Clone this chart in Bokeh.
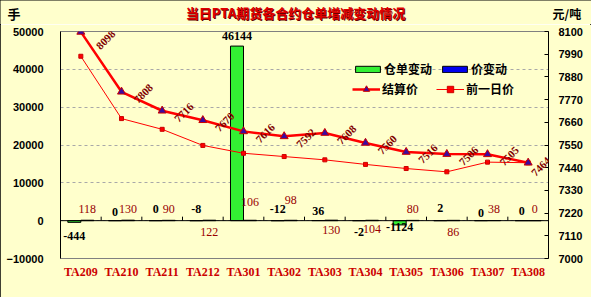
import numpy as np
from bokeh.plotting import figure
from bokeh.layouts import column
from bokeh.models import (Range1d, LinearAxis, FixedTicker, Span, Legend,
                          LegendItem, ColumnDataSource, FactorRange, LabelSet)
from bokeh.transform import dodge
from bokeh.core.properties import value
from bokeh.embed import file_html
from bokeh.resources import INLINE

# ---------------- data ----------------
contracts = ["TA209", "TA210", "TA211", "TA212", "TA301", "TA302",
             "TA303", "TA304", "TA305", "TA306", "TA307", "TA308"]
warrant_change = [-444, 0, 0, -8, 46144, -12, 36, -2, -1124, 2, 0, 0]
price_change = [118, 130, 90, 122, 106, 98, 130, 104, 80, 86, 38, 0]
settle_price = [8098, 7808, 7716, 7670, 7616, 7592, 7608, 7560, 7516, 7506, 7505, 7464]
prev_price = [7980, 7678, 7626, 7548, 7510, 7494, 7478, 7456, 7436, 7420, 7467, 7464]
left_ticks = [-10000, 0, 10000, 20000, 30000, 40000, 50000]
right_ticks = [7000, 7110, 7220, 7330, 7440, 7550, 7660, 7770, 7880, 7990, 8100]

title_text = "当日PTA期货各合约仓单增减变动情况"
left_unit = "手"
right_unit = "元/吨"
series_names = ["仓单变动", "价变动", "结算价", "前一日价"]

# label placement (style, screen px)
warrant_label_dy = [15, -9, -12, -12, -10, -12, -10, 11, 6, -13, -8, -10]   # + = down
price_label_dy = [-12, -12, -12, 11, -19, -21, 9, 8, -12, 11, -12, -12]    # + = down
settle_label_dx = [25, 22, 22, 22, 22, 22, 22, 22, 22, 22, 22, 13]
settle_label_dy = [-8, -2, -2, -2, -2, -2, -2, -2, -2, -2, -2, -4]         # + = up

# ---------------- style ----------------
BG = "#FFFFCC"
GREEN = "#33F033"
BLUE = "#0000EE"
RED = "#FF0000"
DARKRED = "#990000"
W = 591
TOP_H = 24
H = 297 - TOP_H
ML, MR, MT, MB = 60, 43, 31 - TOP_H, 39
FRAME_H = H - MT - MB

n = len(contracts)
src = ColumnDataSource(dict(
    cat=contracts,
    wh=warrant_change,
    pc=price_change,
    settle=settle_price,
    prev=prev_price,
    wh_txt=[str(v) for v in warrant_change],
    pc_txt=[str(v) for v in price_change],
    settle_txt=[str(v) for v in settle_price],
    wh_y=list(np.maximum(np.array(warrant_change), 0)),
    zero=[0] * n,
    wh_dy=warrant_label_dy,
    pc_dy=price_label_dy,
    s_dx=settle_label_dx,
    s_dy=settle_label_dy,
))

# ---------------- header strip (title and units) ----------------
t = figure(width=W, height=TOP_H, x_range=Range1d(0, W), y_range=Range1d(TOP_H, 0),
           output_backend="svg", toolbar_location=None,
           x_axis_type=None, y_axis_type=None, min_border=0,
           background_fill_color=BG, border_fill_color=BG)
try:
    t.frame_align = False
except Exception:
    pass
t.outline_line_color = None
t.grid.grid_line_color = None
t.text(x=[296], y=[13], text=[title_text], text_align="center", text_baseline="middle",
       text_font=value("Noto Sans CJK SC"), text_font_style="bold",
       text_font_size="13px", text_color="#660000")
t.text(x=[295], y=[12], text=[title_text], text_align="center", text_baseline="middle",
       text_font=value("Noto Sans CJK SC"), text_font_style="bold",
       text_font_size="13px", text_color="#E00000")
t.text(x=[7], y=[13], text=[left_unit], text_align="left", text_baseline="middle",
       text_font=value("Noto Sans CJK SC"), text_font_style="bold",
       text_font_size="13px", text_color="black")
t.text(x=[552], y=[13], text=[right_unit], text_align="left", text_baseline="middle",
       text_font=value("Noto Sans CJK SC"), text_font_style="bold",
       text_font_size="12px", text_color="black")

# ---------------- main chart ----------------
y0, y1 = left_ticks[0], left_ticks[-1]
p = figure(width=W, height=H,
           x_range=FactorRange(factors=contracts, range_padding=0),
           y_range=Range1d(y0, y1),
           output_backend="svg", toolbar_location=None,
           min_border_left=ML, min_border_right=MR,
           min_border_top=MT, min_border_bottom=MB,
           background_fill_color=BG, border_fill_color=BG)
try:
    p.frame_align = False
except Exception:
    pass
p.extra_y_ranges = {"price": Range1d(right_ticks[0], right_ticks[-1])}
p.outline_line_color = "#808080"

# grid
p.xgrid.grid_line_color = None
p.ygrid.ticker = FixedTicker(ticks=left_ticks)
p.ygrid.grid_line_color = "#A8A8A8"
p.ygrid.grid_line_dash = "3 3"

# left axis
p.yaxis.ticker = FixedTicker(ticks=left_ticks)
p.yaxis.axis_line_color = "black"
p.yaxis.major_tick_line_color = None
p.yaxis.minor_tick_line_color = None
p.yaxis.major_tick_out = 0
p.yaxis.major_tick_in = 0
p.yaxis.major_label_standoff = 17
p.yaxis.major_label_text_font = "Liberation Sans"
p.yaxis.major_label_text_font_style = "bold"
p.yaxis.major_label_text_font_size = "11px"
p.yaxis.major_label_text_color = "black"

# right axis
ra = LinearAxis(y_range_name="price", ticker=FixedTicker(ticks=right_ticks))
ra.axis_line_color = "black"
ra.major_tick_line_color = "black"
ra.major_tick_in = 4
ra.major_tick_out = 0
ra.minor_tick_line_color = None
ra.major_label_standoff = 10
ra.major_label_text_font = "Liberation Sans"
ra.major_label_text_font_style = "bold"
ra.major_label_text_font_size = "11px"
ra.major_label_text_color = "black"
p.add_layout(ra, "right")

# bottom axis
p.xaxis.axis_line_color = None
p.xaxis.major_tick_line_color = None
p.xaxis.minor_tick_line_color = None
p.xaxis.major_tick_out = 0
p.xaxis.major_label_standoff = 6
p.xaxis.major_label_text_font = "Liberation Serif"
p.xaxis.major_label_text_font_style = "bold"
p.xaxis.major_label_text_font_size = "12px"
p.xaxis.major_label_text_color = "#CC0000"

# zero line and category separators
p.add_layout(Span(location=0, dimension="width", line_color="black", line_width=1))
tick_len = 4 * (y1 - y0) / FRAME_H
p.segment(x0=dodge("cat", 0.5, range=p.x_range), x1=dodge("cat", 0.5, range=p.x_range),
          y0=0, y1=tick_len, source=src, line_color="black", line_width=1)

# bars
r_green = p.vbar(x=dodge("cat", -0.16, range=p.x_range), top="wh", width=0.32,
                 source=src, fill_color=GREEN, line_color="black", line_width=1)
r_blue = p.vbar(x=dodge("cat", 0.16, range=p.x_range), top="pc", width=0.32,
                source=src, fill_color=BLUE, line_color="black", line_width=1)

# lines
r_prev_line = p.line(x="cat", y="prev", source=src, y_range_name="price",
                     line_color=RED, line_width=1)
r_prev_pts = p.scatter(x="cat", y="prev", source=src, y_range_name="price",
                       marker="square", size=4, fill_color=RED, line_color="#CC0000")
r_settle_line = p.line(x="cat", y="settle", source=src, y_range_name="price",
                       line_color=RED, line_width=2.5)
r_settle_pts = p.scatter(x="cat", y="settle", source=src, y_range_name="price",
                         marker="triangle", size=8, fill_color="#3B0AA0",
                         line_color="#CC0000", line_width=1)

# bar labels
p.text(x=dodge("cat", -0.16, range=p.x_range), y="wh_y", text="wh_txt", source=src,
       y_offset="wh_dy", text_align="center", text_baseline="middle",
       text_font=value("Liberation Serif"), text_font_style="bold",
       text_font_size="12px", text_color="black")
p.text(x=dodge("cat", 0.16, range=p.x_range), y="zero", text="pc_txt", source=src,
       y_offset="pc_dy", text_align="center", text_baseline="middle",
       text_font=value("Liberation Serif"), text_font_size="12px",
       text_color=DARKRED)

# settlement labels
p.add_layout(LabelSet(x="cat", y="settle", text="settle_txt", source=src,
                      y_range_name="price", angle=0.785, x_offset="s_dx", y_offset="s_dy",
                      text_align="center", text_baseline="middle",
                      text_font="Liberation Sans", text_font_style="bold",
                      text_font_size="11px", text_color="#800000"))

# legends
leg1 = Legend(items=[LegendItem(label=series_names[0], renderers=[r_green]),
                     LegendItem(label=series_names[1], renderers=[r_blue])],
              orientation="horizontal", location=(292, 181),
              glyph_width=31, glyph_height=8, label_height=16, label_standoff=1,
              spacing=7, padding=0, margin=0)
leg2 = Legend(items=[LegendItem(label=series_names[2], renderers=[r_settle_line, r_settle_pts]),
                     LegendItem(label=series_names[3], renderers=[r_prev_line, r_prev_pts])],
              orientation="horizontal", location=(292, 161),
              glyph_width=28, glyph_height=16, label_height=16, label_standoff=2,
              spacing=18, padding=0, margin=0)
for lg in (leg1, leg2):
    lg.background_fill_alpha = 0
    lg.border_line_color = None
    lg.label_text_font = "Noto Sans CJK SC"
    lg.label_text_font_style = "bold"
    lg.label_text_font_size = "12px"
    lg.label_text_color = "black"
    p.add_layout(lg)

layout = column(t, p, spacing=0)
layout.styles = {"outline": "1px solid black", "outline-offset": "-1px"}

open("out.html", "w").write(file_html(layout, INLINE))
